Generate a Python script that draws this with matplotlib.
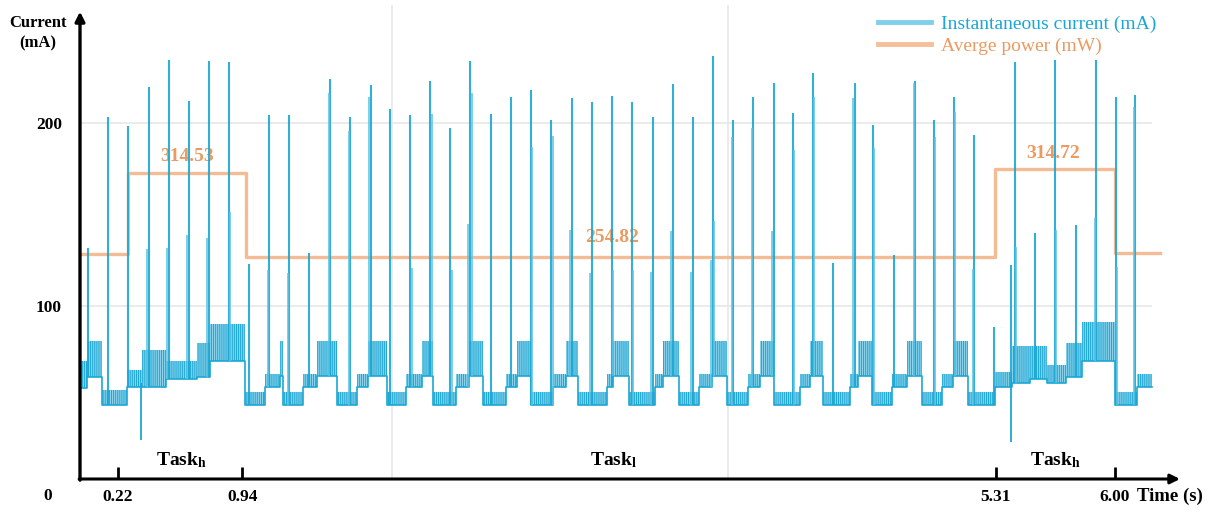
import numpy as np
import matplotlib.pyplot as plt
from matplotlib.lines import Line2D

plt.rcParams['font.family'] = 'Liberation Serif'
plt.rcParams['mathtext.fontset'] = 'custom'
plt.rcParams['mathtext.rm'] = 'Liberation Serif'
plt.rcParams['mathtext.bf'] = 'Liberation Serif:bold'
plt.rcParams['hatch.linewidth'] = 0.7

# baseline of the current trace: segment start (s), lower / upper edge (mA)
seg_t = [0.000, 0.039, 0.126, 0.271, 0.360, 0.500, 0.676, 0.754, 0.957,
         1.072, 1.159, 1.179, 1.291, 1.376, 1.492, 1.604, 1.672, 1.778,
         1.890, 1.981, 2.048, 2.180, 2.257, 2.338, 2.470, 2.535, 2.612,
         2.745, 2.817, 2.889, 3.053, 3.092, 3.184, 3.333, 3.381, 3.474,
         3.590, 3.661, 3.752, 3.874, 3.942, 4.023, 4.174, 4.232, 4.309,
         4.464, 4.512, 4.589, 4.705, 4.796, 4.879, 4.995, 5.063, 5.150,
         5.304, 5.401, 5.507, 5.604, 5.719, 5.806, 6.000, 6.125]
seg_lo = [55, 61, 46, 56, 56, 60, 61, 70, 46,
          56, 62, 46, 56, 62, 46, 56, 62, 46,
          56, 62, 46, 56, 62, 46, 56, 62, 46,
          56, 62, 46, 56, 62, 46, 56, 62, 46,
          56, 62, 46, 56, 62, 46, 56, 62, 46,
          56, 62, 46, 56, 62, 46, 56, 62, 46,
          56, 58, 60, 58, 61, 70, 46, 56]
seg_hi = [70, 81, 54, 65, 76, 70, 80, 90, 53,
          63, 81, 53, 63, 81, 53, 63, 81, 53,
          63, 81, 53, 63, 81, 53, 63, 81, 53,
          63, 81, 53, 63, 81, 53, 63, 81, 53,
          63, 81, 53, 63, 81, 53, 63, 81, 53,
          63, 81, 53, 63, 81, 53, 63, 81, 53,
          64, 78, 78, 68, 80, 91, 53, 63]
trace_end = 6.212

# main spikes (s, mA)
spike_t = [0.046, 0.160, 0.278, 0.400, 0.514, 0.630, 0.748, 0.862, 0.982,
           1.098, 1.214, 1.328, 1.451, 1.567, 1.685, 1.797, 1.911, 2.029,
           2.145, 2.261, 2.381, 2.497, 2.613, 2.730, 2.850, 2.966, 3.084,
           3.200, 3.319, 3.435, 3.551, 3.667, 3.783, 3.903, 4.021, 4.133,
           4.247, 4.363, 4.491, 4.595, 4.721, 4.841, 4.951, 5.067, 5.181,
           5.298, 5.397, 5.420, 5.536, 5.652, 5.772, 5.889, 6.004, 6.119]
spike_peak = [131.7, 203.3, 198.2, 219.5, 234.4, 211.6, 233.7, 233.1, 123.0,
              204.2, 204.2, 129.0, 223.6, 202.9, 220.5, 207.3, 204.2, 222.9,
              196.9, 233.8, 204.7, 214.2, 217.8, 201.5, 213.3, 211.5, 214.7,
              211.5, 203.3, 220.9, 203.3, 236.4, 201.5, 213.8, 221.8, 205.5,
              226.9, 123.6, 221.5, 198.7, 127.8, 222.9, 201.5, 214.2, 193.3,
              88.7, 122.4, 233.3, 139.6, 234.2, 144.2, 234.2, 214.2, 215.1]

# secondary spikes next to the main ones
sub_t = [0.386, 0.506, 0.622, 0.738, 0.870, 1.092, 1.208, 1.441, 1.557,
         1.675, 1.923, 2.039, 2.155, 2.251, 2.271, 2.622, 2.740, 2.840,
         2.956, 3.092, 3.207, 3.309, 3.426, 3.541, 3.657, 3.677, 3.777,
         3.893, 4.011, 4.139, 4.255, 4.481, 4.605, 4.833, 4.959, 5.075,
         5.175, 5.426, 5.658, 5.883, 6.010, 6.113]
sub_peak = [131.0, 131.7, 139.0, 137.0, 151.5, 119.6, 117.8, 216.0, 195.6,
            213.8, 120.5, 204.7, 119.6, 145.0, 216.0, 187.0, 192.7, 141.5,
            117.8, 119.6, 119.6, 118.7, 141.0, 118.7, 125.0, 146.4, 192.4,
            196.9, 141.0, 185.0, 214.2, 213.3, 186.0, 221.5, 192.4, 206.0,
            120.0, 132.4, 141.5, 147.8, 121.5, 208.7]

# downward glitches
dip_t = [0.352, 5.395]
dip_low = [27.0, 26.0]

# average power step line (drawn on the current scale)
power_t = [0.010, 0.279, 0.962, 5.303, 6.000, 6.261]
power_level = [128.5, 172.5, 126.8, 174.6, 128.8]
power_text = ['314.53', '254.82', '314.72']
power_text_t = [0.620, 3.086, 5.643]
power_text_y = [181.3, 137.5, 183.3]

xtick_vals = [0.22, 0.94, 5.31, 6.00]
xtick_labels = ['0.22', '0.94', '5.31', '6.00']
task_labels = [r'$\mathbf{Task_h}$', r'$\mathbf{Task_l}$', r'$\mathbf{Task_h}$']
task_t = [0.586, 3.09, 5.652]

cyan = '#1ba7d3'
orange = '#f3b48a'
orange_txt = '#eb9a62'

fig = plt.figure(figsize=(12.11, 5.15), dpi=100)
ax = fig.add_axes([80 / 1211, 36 / 515, 1100 / 1211, 474 / 515])
ax.set_xlim(0, 6.377)
ax.set_ylim(5.62, 264.2)
for s in ax.spines.values():
    s.set_visible(False)

# grid
ax.hlines([100, 200], 0, trace_end, color='#e8e8e8', lw=1.2, zorder=0)
ax.vlines([1.81, 3.757], 5.62, 264.2, color='#e8e8e8', lw=1.2, zorder=0)

# current baseline band
bx = np.append(seg_t, trace_end)
blo = np.append(seg_lo, seg_lo[-1])
bhi = np.append(seg_hi, seg_hi[-1])
ax.fill_between(bx, blo, bhi, step='post', facecolor='#8ed3ec',
                edgecolor=cyan, hatch='||||||||', linewidth=0, zorder=2)
ax.step(bx, blo, where='post', color=cyan, lw=1.2, zorder=3)

idx = np.searchsorted(seg_t, spike_t, side='right') - 1
ax.vlines(spike_t, np.array(seg_lo)[idx], spike_peak, color=cyan,
          lw=1.5, alpha=0.9, zorder=4)
idx2 = np.searchsorted(seg_t, sub_t, side='right') - 1
ax.vlines(sub_t, np.array(seg_lo)[idx2], sub_peak, color='#5cc3e3',
          lw=1.3, alpha=0.85, zorder=4)
ax.vlines(dip_t, dip_low, 58, color=cyan, lw=1.3, zorder=4)

# power
ax.step(power_t, power_level + [power_level[-1]], where='post',
        color=orange, lw=2.4, alpha=0.9, zorder=3)
for txt, t, y in zip(power_text, power_text_t, power_text_y):
    ax.text(t, y, txt, color=orange_txt, fontsize=14, fontweight='bold',
            ha='center', va='center')

# axes with arrows
ax.annotate('', xy=(6.377, 5.62), xytext=(-0.005, 5.62),
            arrowprops=dict(arrowstyle='-|>', lw=2.2, color='black',
                            mutation_scale=14, shrinkA=0, shrinkB=0),
            annotation_clip=False, zorder=6)
ax.annotate('', xy=(0, 260.6), xytext=(0, 5.0),
            arrowprops=dict(arrowstyle='-|>', lw=2.4, color='black',
                            mutation_scale=14, shrinkA=0, shrinkB=0),
            annotation_clip=False, zorder=6)

ax.set_xticks(xtick_vals)
ax.set_xticklabels(xtick_labels, fontsize=12.5, fontweight='bold')
ax.tick_params(axis='x', direction='in', length=8.5, width=2, pad=7)
ax.set_yticks([100, 200])
ax.set_yticklabels(['100', '200'], fontsize=12.5, fontweight='bold')
ax.tick_params(axis='y', length=0, pad=13)

ax.text(-0.186, -3.6, '0', fontsize=12.5, fontweight='bold',
        ha='center', va='center', clip_on=False)
ax.text(6.128, -3.6, 'Time (s)', fontsize=13.5, fontweight='bold',
        ha='left', va='center', clip_on=False)
ax.text(-0.243, 248.6, 'Current\n(mA)', fontsize=12, fontweight='bold',
        ha='center', va='center', linespacing=1.35, clip_on=False)

for lab, t in zip(task_labels, task_t):
    ax.text(t, 16, lab, fontsize=14, ha='center', va='center')

handles = [Line2D([], [], color='#80d0ea', lw=3.5),
           Line2D([], [], color='#f5bf99', lw=3.5)]
leg = ax.legend(handles, ['Instantaneous current (mA)', 'Averge power (mW)'],
                loc='upper left', bbox_to_anchor=(878 / 1211, 1 - 15 / 515),
                bbox_transform=fig.transFigure, frameon=False, fontsize=14,
                handlelength=2.7, handletextpad=0.55, labelspacing=0.22,
                borderpad=0, borderaxespad=0)
for t, c in zip(leg.get_texts(), [cyan, orange_txt]):
    t.set_color(c)

plt.savefig('out.png', dpi=100)
